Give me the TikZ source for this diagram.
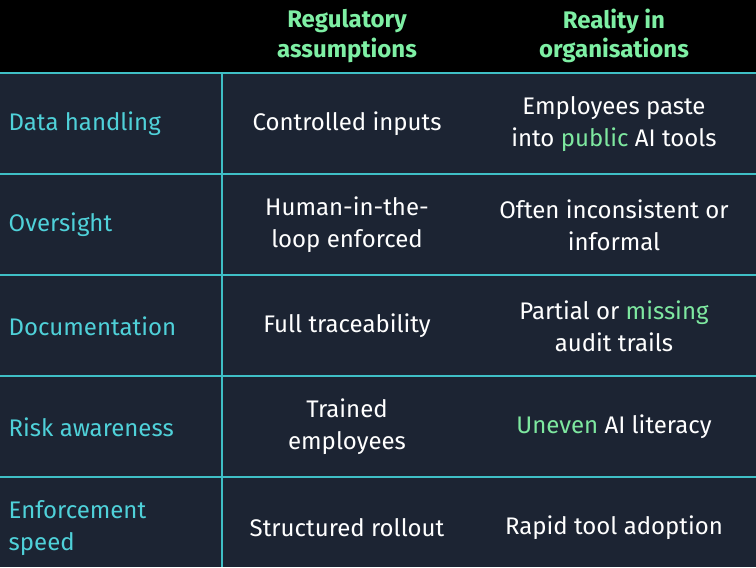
\documentclass[tikz,border=0pt]{standalone}
\usepackage{fontspec}
\setmainfont{Fira Sans}
\definecolor{bg}{HTML}{1C2433}
\definecolor{hd}{HTML}{7EEFA4}
\definecolor{lab}{HTML}{4FD1D9}
\definecolor{hl}{HTML}{7EE8A0}
\definecolor{ln}{HTML}{3FBFC6}
\begin{document}
\begin{tikzpicture}[x=0.75pt,y=-0.75pt,
  hdr/.style={text=hd,font=\fontsize{18}{22}\selectfont\bfseries,align=center},
  rowlab/.style={text=lab,font=\fontsize{18}{24}\selectfont,align=left,anchor=west},
  cell/.style={text=white,font=\fontsize{18}{24}\selectfont,align=center}]
\fill[bg] (0,0) rectangle (756,567);
\fill[black] (0,0) rectangle (756,73);
\useasboundingbox (0,0) rectangle (756,567);
\foreach \y in {73,174,275,376,477} \draw[ln,line width=1pt] (0,\y) -- (756,\y);
\draw[ln,line width=1pt] (222,73) -- (222,567);
\node[hdr] (h1) at (347,36) {Regulatory\\assumptions};
\node[hdr] (h2) at (614,36) {Reality in\\organisations};
\node[rowlab] (r1) at (4,124) {Data handling};
\node[rowlab] (r2) at (4,225) {Oversight};
\node[rowlab] (r3) at (4,326) {Documentation};
\node[rowlab] (r4) at (4,427) {Risk awareness};
\node[rowlab] (r5) at (4,528) {Enforcement\\speed};
\node[cell] (a1) at (347,124) {Controlled inputs};
\node[cell] (a2) at (347,225) {Human-in-the-\\loop enforced};
\node[cell] (a3) at (347,326) {Full traceability};
\node[cell] (a4) at (347,427) {Trained\\employees};
\node[cell] (a5) at (347,528) {Structured rollout};
\node[cell] (b1) at (614,124) {Employees paste\\into \textcolor{hl}{public} AI tools};
\node[cell] (b2) at (614,225) {Often inconsistent or\\informal};
\node[cell] (b3) at (614,326) {Partial or \textcolor{hl}{missing}\\audit trails};
\node[cell] (b4) at (614,427) {\textcolor{hl}{Uneven} AI literacy};
\node[cell] (b5) at (614,528) {Rapid tool adoption};
\end{tikzpicture}
\end{document}
